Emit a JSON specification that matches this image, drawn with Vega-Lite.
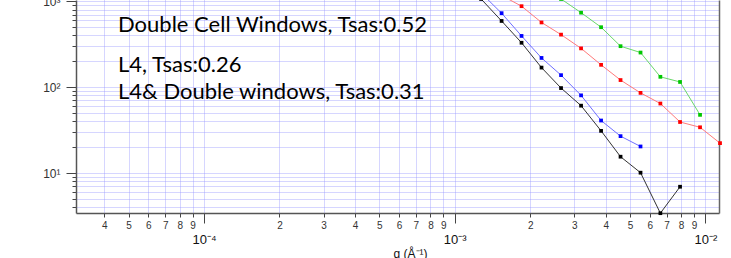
{
  "$schema": "https://vega.github.io/schema/vega-lite/v6.json",
  "width": 643,
  "height": 213,
  "autosize": {"type": "none"},
  "padding": {"left": 76, "top": 0, "right": 12, "bottom": 45},
  "background": "white",
  "config": {
    "view": {"stroke": null},
    "axis": {"labelFont": "Liberation Sans", "titleFont": "Liberation Sans", "labelColor": "#333", "domainColor": "#555", "tickColor": "#444"}
  },
  "data": {"values": [
    {"series": "black", "q": 0.001059, "I": 1917},
    {"series": "black", "q": 0.001274, "I": 1064},
    {"series": "black", "q": 0.001538, "I": 590},
    {"series": "black", "q": 0.001847, "I": 329},
    {"series": "black", "q": 0.002219, "I": 169},
    {"series": "black", "q": 0.002655, "I": 97.6},
    {"series": "black", "q": 0.003191, "I": 60.9},
    {"series": "black", "q": 0.003835, "I": 31.0},
    {"series": "black", "q": 0.004585, "I": 15.5},
    {"series": "black", "q": 0.005509, "I": 10.1},
    {"series": "black", "q": 0.006610, "I": 3.41},
    {"series": "black", "q": 0.007920, "I": 6.93},
    {"series": "blue", "q": 0.001274, "I": 1250},
    {"series": "blue", "q": 0.001538, "I": 727},
    {"series": "blue", "q": 0.001847, "I": 395},
    {"series": "blue", "q": 0.002219, "I": 219},
    {"series": "blue", "q": 0.002655, "I": 138},
    {"series": "blue", "q": 0.003191, "I": 80.3},
    {"series": "blue", "q": 0.003835, "I": 40.9},
    {"series": "blue", "q": 0.004585, "I": 26.9},
    {"series": "blue", "q": 0.005509, "I": 20.4},
    {"series": "red", "q": 0.001538, "I": 1170},
    {"series": "red", "q": 0.001847, "I": 877},
    {"series": "red", "q": 0.002219, "I": 567},
    {"series": "red", "q": 0.002655, "I": 409},
    {"series": "red", "q": 0.003191, "I": 283},
    {"series": "red", "q": 0.003835, "I": 182},
    {"series": "red", "q": 0.004585, "I": 121},
    {"series": "red", "q": 0.005509, "I": 85.8},
    {"series": "red", "q": 0.006610, "I": 64.5},
    {"series": "red", "q": 0.007920, "I": 39.3},
    {"series": "red", "q": 0.009517, "I": 34.1},
    {"series": "red", "q": 0.011433, "I": 22.3},
    {"series": "green", "q": 0.002219, "I": 1550},
    {"series": "green", "q": 0.002655, "I": 1064},
    {"series": "green", "q": 0.003191, "I": 737},
    {"series": "green", "q": 0.003835, "I": 499},
    {"series": "green", "q": 0.004585, "I": 300},
    {"series": "green", "q": 0.005509, "I": 253},
    {"series": "green", "q": 0.006610, "I": 132},
    {"series": "green", "q": 0.007920, "I": 115},
    {"series": "green", "q": 0.009517, "I": 47.6}
  ]},
  "layer": [
    {
      "mark": {"type": "line", "strokeWidth": 1},
      "encoding": {
        "x": {
          "field": "q", "type": "quantitative",
          "scale": {"type": "log", "domain": [0.00003086, 0.011326], "nice": false, "zero": false},
          "axis": {
            "orient": "bottom",
            "values": [0.00004, 0.00005, 0.00006, 0.00007, 0.00008, 0.00009, 0.0001, 0.0002, 0.0003, 0.0004, 0.0005, 0.0006, 0.0007, 0.0008, 0.0009, 0.001, 0.002, 0.003, 0.004, 0.005, 0.006, 0.007, 0.008, 0.009, 0.01],
            "labelExpr": "(round(datum.value / pow(10, floor(log(datum.value)/LN10 + 1e-6))) == 1) ? '' : '' + round(datum.value / pow(10, floor(log(datum.value)/LN10 + 1e-6)))",
            "labelFontSize": 10,
            "labelPadding": 3,
            "labelOverlap": false,
            "labelFlush": false,
            "labelBound": false,
            "tickSize": {"condition": {"test": "abs(log(datum.value)/LN10 - round(log(datum.value)/LN10)) < 1e-6", "value": 10}, "value": 4},
            "tickWidth": 1,
            "domainWidth": 1.5,
            "grid": true,
            "gridColor": "#9a9aff",
            "gridDash": [1, 1],
            "gridWidth": 1,
            "gridOpacity": 0.8,
            "title": null
          }
        },
        "y": {
          "field": "I", "type": "quantitative",
          "scale": {"type": "log", "domain": [3.427, 1035], "nice": false, "zero": false},
          "axis": {
            "orient": "left",
            "values": [4, 5, 6, 7, 8, 9, 10, 20, 30, 40, 50, 60, 70, 80, 90, 100, 200, 300, 400, 500, 600, 700, 800, 900, 1000],
            "labelExpr": "datum.value == 10 ? '10¹' : datum.value == 100 ? '10²' : datum.value == 1000 ? '10³' : ''",
            "labelFontSize": 12,
            "labelPadding": 6,
            "labelOverlap": false,
            "labelFlush": false,
            "labelBound": false,
            "tickSize": {"condition": {"test": "datum.value == 10 || datum.value == 100 || datum.value == 1000", "value": 10}, "value": 4},
            "domainWidth": 1.5,
            "grid": true,
            "gridColor": "#9a9aff",
            "gridDash": [1, 1],
            "gridWidth": 1,
            "gridOpacity": 0.8,
            "title": null
          }
        },
        "color": {"field": "series", "type": "nominal", "scale": {"domain": ["black", "blue", "red", "green"], "range": ["#333333", "#6f6fff", "#ff7a7a", "#6ad86a"]}, "legend": null}
      }
    },
    {
      "mark": {"type": "square", "size": 14, "opacity": 1},
      "encoding": {
        "x": {
          "field": "q", "type": "quantitative",
          "scale": {"type": "log", "domain": [0.00003086, 0.011326], "nice": false, "zero": false},
          "axis": {
            "orient": "bottom",
            "values": [0.0001, 0.001, 0.01],
            "labelExpr": "datum.value < 0.0005 ? '10⁻⁴' : datum.value < 0.005 ? '10⁻³' : '10⁻²'",
            "labelFontSize": 13,
            "labelColor": "#111",
            "ticks": false,
            "domain": false,
            "grid": false,
            "labelPadding": 20,
            "labelOverlap": false,
            "labelFlush": false,
            "labelBound": false,
            "title": "q (Å⁻¹)",
            "titleFontSize": 12,
            "titleFontWeight": "normal",
            "titleColor": "#111",
            "titleX": 334,
            "titleY": 40,
            "titleBaseline": "middle",
            "titleAlign": "center"
          }
        },
        "y": {
          "field": "I", "type": "quantitative",
          "scale": {"type": "log", "domain": [3.427, 1035], "nice": false, "zero": false},
          "axis": {"orient": "right", "ticks": false, "labels": false, "grid": false, "domain": true, "domainWidth": 1.5, "domainColor": "#666", "title": null}
        },
        "color": {"field": "series", "type": "nominal", "scale": {"domain": ["black", "blue", "red", "green"], "range": ["#000000", "#0000ff", "#ff0000", "#00c800"]}, "legend": null}
      }
    },
    {
      "data": {"values": [
        {"label": "Double Cell Windows, Tsas:0.52", "q": 0.0000454, "I": 530},
        {"label": "L4, Tsas:0.26", "q": 0.0000454, "I": 182},
        {"label": "L4& Double windows, Tsas:0.31", "q": 0.0000454, "I": 88.2}
      ]},
      "mark": {"type": "text", "align": "left", "baseline": "middle", "font": "Lato", "fontSize": 22, "color": "#000"},
      "encoding": {
        "x": {"field": "q", "type": "quantitative", "scale": {"type": "log", "domain": [0.00003086, 0.011326], "nice": false, "zero": false}, "axis": null},
        "y": {"field": "I", "type": "quantitative", "scale": {"type": "log", "domain": [3.427, 1035], "nice": false, "zero": false}, "axis": null},
        "text": {"field": "label"}
      }
    }
  ],
  "resolve": {"scale": {"color": "independent"}, "axis": {"x": "independent", "y": "independent"}}
}
